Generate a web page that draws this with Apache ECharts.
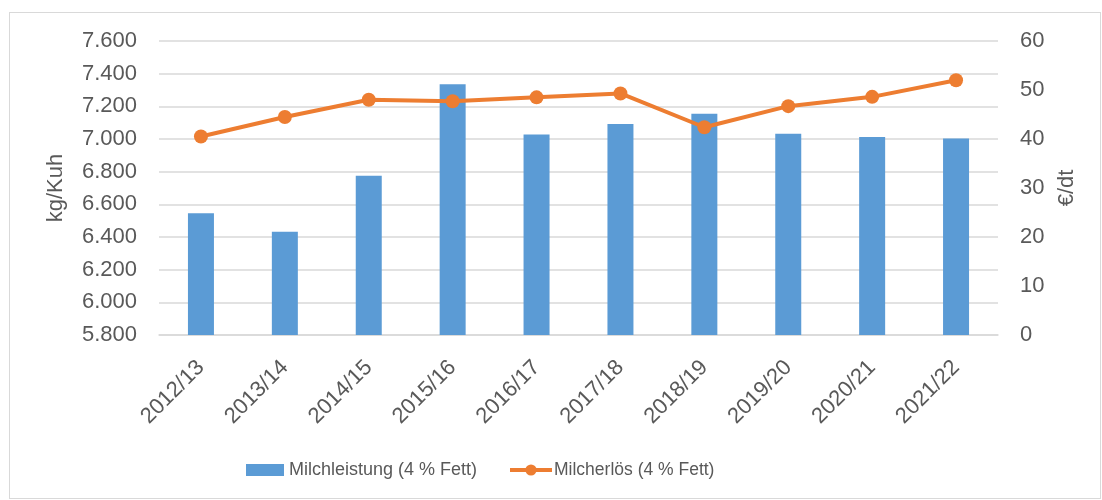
<!DOCTYPE html>
<html>
<head>
<meta charset="utf-8">
<script src="https://cdn.jsdelivr.net/npm/echarts@6/dist/echarts.min.js"></script>
<style>
  html, body { margin: 0; padding: 0; background: #fff; }
  #frame { position: absolute; left: 9px; top: 12px; width: 1092px; height: 487px; border: 1px solid #d9d9d9; box-sizing: border-box; }
  #chart { position: absolute; left: 0; top: 0; width: 1102px; height: 500px; }
</style>
</head>
<body>
<div id="frame"></div>
<div id="chart"></div>
<script>
// values
const years = ['2012/13', '2013/14', '2014/15', '2015/16', '2016/17', '2017/18', '2018/19', '2019/20', '2020/21', '2021/22'];
const milkYield = [6545, 6432, 6775, 7335, 7028, 7092, 7155, 7032, 7013, 7003];
const milkPrice = [40.5, 44.5, 48.0, 47.7, 48.5, 49.3, 42.4, 46.7, 48.6, 52.0];

const textColor = '#595959';
const font = '"Liberation Sans", Arial, sans-serif';

let myChart = echarts.init(document.getElementById('chart'));

myChart.setOption({
  animation: false,
  textStyle: { fontFamily: font, color: textColor },
  grid: {
    left: 159,
    right: 104,
    top: 41,
    bottom: 165
  },
  legend: [
    {
      left: 246,
      top: 461,
      padding: 0,
      itemWidth: 38,
      itemHeight: 12,
      textStyle: { fontSize: 18, color: textColor, fontFamily: font },
      data: [{ name: 'Milchleistung (4 % Fett)', icon: 'rect' }]
    },
    {
      left: 508,
      top: 461,
      padding: 0,
      itemWidth: 42,
      itemHeight: 14,
      itemGap: 0,
      textStyle: { fontSize: 17.5, color: textColor, fontFamily: font, padding: [0, 0, 0, -3] },
      data: [{
        name: 'Milcherlös (4 % Fett)',
        lineStyle: { color: '#ed7d31', width: 4 },
        itemStyle: { color: '#ed7d31' }
      }]
    }
  ],
  xAxis: {
    type: 'category',
    data: years,
    axisLine: { lineStyle: { color: '#d9d9d9', width: 1.5 } },
    axisTick: { show: false },
    axisLabel: {
      rotate: 45,
      fontSize: 22,
      color: textColor,
      margin: 29,
      interval: 0
    }
  },
  yAxis: [
    {
      type: 'value',
      name: 'kg/Kuh',
      nameLocation: 'middle',
      nameGap: 92,
      nameTextStyle: { fontSize: 22, color: textColor },
      min: 5800,
      max: 7600,
      interval: 200,
      axisLabel: {
        fontSize: 22,
        color: textColor,
        margin: 22,
        formatter: v => (v / 1000).toFixed(3)
      },
      axisLine: { show: false },
      axisTick: { show: false },
      splitLine: { lineStyle: { color: '#d9d9d9', width: 1.5 } }
    },
    {
      type: 'value',
      name: '€/dt',
      nameLocation: 'middle',
      nameGap: 58,
      nameRotate: 90,
      nameTextStyle: { fontSize: 22, color: textColor },
      min: 0,
      max: 60,
      interval: 10,
      axisLabel: { fontSize: 22, color: textColor, margin: 22 },
      axisLine: { show: false },
      axisTick: { show: false },
      splitLine: { show: false }
    }
  ],
  series: [
    {
      name: 'Milchleistung (4 % Fett)',
      type: 'bar',
      yAxisIndex: 0,
      barWidth: 26,
      itemStyle: { color: '#5b9bd5' },
      data: milkYield
    },
    {
      name: 'Milcherlös (4 % Fett)',
      type: 'line',
      yAxisIndex: 1,
      symbol: 'circle',
      symbolSize: 14,
      lineStyle: { color: '#ed7d31', width: 4 },
      itemStyle: { color: '#ed7d31' },
      data: milkPrice
    }
  ]
});
</script>
</body>
</html>
